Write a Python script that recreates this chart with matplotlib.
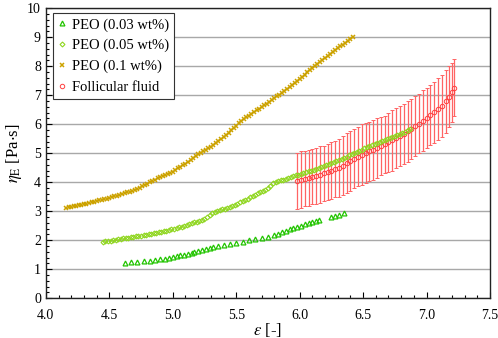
import matplotlib.pyplot as plt
from matplotlib.ticker import MultipleLocator

# PEO (0.03 wt%)
x_003 = [4.62, 4.67, 4.72, 4.77, 4.82, 4.86, 4.90, 4.94, 4.97, 5.00, 5.03, 5.06,
         5.09, 5.12, 5.15, 5.17, 5.20, 5.23, 5.26, 5.29, 5.32, 5.36, 5.40, 5.45,
         5.50, 5.55, 5.60, 5.65, 5.70, 5.75, 5.80, 5.83, 5.86, 5.89, 5.92, 5.95,
         5.98, 6.01, 6.04, 6.07, 6.10, 6.13, 6.15, 6.25, 6.28, 6.31, 6.35]
y_003 = [1.22, 1.24, 1.25, 1.27, 1.29, 1.31, 1.34, 1.36, 1.38, 1.41, 1.44, 1.47,
         1.50, 1.53, 1.57, 1.60, 1.63, 1.67, 1.70, 1.73, 1.75, 1.78, 1.82, 1.87,
         1.91, 1.95, 1.99, 2.03, 2.08, 2.12, 2.17, 2.21, 2.27, 2.32, 2.37, 2.41,
         2.45, 2.49, 2.54, 2.58, 2.62, 2.66, 2.70, 2.78, 2.82, 2.86, 2.92]

# PEO (0.05 wt%)
x_005 = [4.45, 4.47, 4.49, 4.51, 4.53, 4.55, 4.57, 4.59, 4.61, 4.63, 4.65, 4.67,
         4.69, 4.71, 4.73, 4.75, 4.77, 4.79, 4.81, 4.83, 4.85, 4.87, 4.89, 4.91,
         4.93, 4.95, 4.97, 4.99, 5.01, 5.03, 5.05, 5.07, 5.09, 5.11, 5.13, 5.15,
         5.17, 5.19, 5.21, 5.23, 5.25, 5.27, 5.29, 5.31, 5.33, 5.35, 5.37, 5.39,
         5.41, 5.43, 5.45, 5.47, 5.49, 5.51, 5.53, 5.55, 5.57, 5.59, 5.61, 5.63,
         5.65, 5.67, 5.69, 5.71, 5.73, 5.75, 5.77, 5.79, 5.81, 5.83, 5.85, 5.87,
         5.89, 5.91, 5.93, 5.95, 5.97, 5.99, 6.01, 6.03, 6.05, 6.07, 6.09, 6.11,
         6.13, 6.15, 6.17, 6.19, 6.21, 6.23, 6.25, 6.27, 6.29, 6.31, 6.33, 6.35,
         6.37, 6.39, 6.41, 6.43, 6.45, 6.47, 6.49, 6.51, 6.53, 6.55, 6.57, 6.59,
         6.61, 6.63, 6.65, 6.67, 6.69, 6.71, 6.73, 6.75, 6.77, 6.79, 6.81, 6.83,
         6.85, 6.87]
y_005 = [1.94, 1.955, 1.97, 1.985, 2.00, 2.015, 2.03, 2.045, 2.06, 2.075, 2.09, 2.10,
         2.11, 2.125, 2.14, 2.155, 2.17, 2.185, 2.20, 2.22, 2.24, 2.255, 2.27, 2.29,
         2.31, 2.33, 2.35, 2.37, 2.39, 2.415, 2.44, 2.465, 2.49, 2.52, 2.55, 2.58,
         2.61, 2.64, 2.67, 2.70, 2.74, 2.80, 2.88, 2.95, 2.98, 3.01, 3.035, 3.06,
         3.09, 3.12, 3.155, 3.19, 3.225, 3.26, 3.30, 3.34, 3.385, 3.43, 3.475, 3.52,
         3.565, 3.61, 3.645, 3.68, 3.72, 3.78, 3.88, 3.96, 4.00, 4.03, 4.06, 4.09,
         4.12, 4.15, 4.18, 4.205, 4.23, 4.255, 4.28, 4.31, 4.34, 4.37, 4.40, 4.43,
         4.46, 4.49, 4.52, 4.55, 4.58, 4.615, 4.65, 4.685, 4.72, 4.76, 4.80, 4.84,
         4.88, 4.92, 4.96, 5.00, 5.04, 5.08, 5.12, 5.16, 5.20, 5.235, 5.27, 5.31,
         5.35, 5.385, 5.42, 5.455, 5.49, 5.53, 5.57, 5.605, 5.64, 5.675, 5.71, 5.745,
         5.78, 5.82]

# PEO (0.1 wt%)
x_01 = [4.16, 4.18, 4.20, 4.22, 4.24, 4.26, 4.28, 4.30, 4.32, 4.34, 4.36, 4.38,
        4.40, 4.42, 4.44, 4.46, 4.48, 4.50, 4.52, 4.54, 4.56, 4.58, 4.60, 4.62,
        4.64, 4.66, 4.68, 4.70, 4.72, 4.74, 4.76, 4.78, 4.80, 4.82, 4.84, 4.86,
        4.88, 4.90, 4.92, 4.94, 4.96, 4.98, 5.00, 5.02, 5.04, 5.06, 5.08, 5.10,
        5.12, 5.14, 5.16, 5.18, 5.20, 5.22, 5.24, 5.26, 5.28, 5.30, 5.32, 5.34,
        5.36, 5.38, 5.40, 5.42, 5.44, 5.46, 5.48, 5.50, 5.52, 5.54, 5.56, 5.58,
        5.60, 5.62, 5.64, 5.66, 5.68, 5.70, 5.72, 5.74, 5.76, 5.78, 5.80, 5.82,
        5.84, 5.86, 5.88, 5.90, 5.92, 5.94, 5.96, 5.98, 6.00, 6.02, 6.04, 6.06,
        6.08, 6.10, 6.12, 6.14, 6.16, 6.18, 6.20, 6.22, 6.24, 6.26, 6.28, 6.30,
        6.32, 6.34, 6.36, 6.38, 6.40, 6.42]
y_01 = [3.12, 3.13, 3.15, 3.17, 3.19, 3.20, 3.22, 3.24, 3.26, 3.28, 3.30, 3.32,
        3.34, 3.37, 3.39, 3.41, 3.43, 3.46, 3.48, 3.51, 3.53, 3.56, 3.59, 3.62,
        3.65, 3.67, 3.70, 3.73, 3.77, 3.81, 3.85, 3.90, 3.95, 4.00, 4.05, 4.09,
        4.13, 4.17, 4.20, 4.24, 4.28, 4.32, 4.36, 4.41, 4.47, 4.52, 4.58, 4.64,
        4.71, 4.77, 4.84, 4.90, 4.96, 5.02, 5.07, 5.12, 5.17, 5.22, 5.28, 5.34,
        5.41, 5.48, 5.56, 5.63, 5.71, 5.79, 5.87, 5.95, 6.03, 6.10, 6.16, 6.23,
        6.29, 6.35, 6.41, 6.47, 6.53, 6.59, 6.65, 6.71, 6.77, 6.83, 6.90, 6.96,
        7.02, 7.08, 7.14, 7.20, 7.27, 7.34, 7.41, 7.48, 7.56, 7.63, 7.71, 7.78,
        7.86, 7.93, 8.01, 8.08, 8.15, 8.22, 8.28, 8.35, 8.42, 8.48, 8.55, 8.61,
        8.68, 8.74, 8.81, 8.87, 8.93, 9.00]

# Follicular fluid (mean and error)
x_ff = [5.98, 6.01, 6.04, 6.07, 6.10, 6.13, 6.16, 6.19, 6.22, 6.25, 6.28, 6.31,
        6.34, 6.37, 6.40, 6.43, 6.46, 6.49, 6.52, 6.55, 6.58, 6.61, 6.64, 6.67,
        6.70, 6.73, 6.76, 6.79, 6.82, 6.85, 6.88, 6.91, 6.94, 6.97, 7.00, 7.03,
        7.06, 7.09, 7.12, 7.15, 7.18, 7.20, 7.22]
y_ff = [4.05, 4.08, 4.12, 4.15, 4.19, 4.22, 4.26, 4.30, 4.35, 4.40, 4.45, 4.50,
        4.57, 4.65, 4.73, 4.81, 4.88, 4.94, 5.00, 5.06, 5.12, 5.18, 5.24, 5.30,
        5.37, 5.44, 5.51, 5.59, 5.67, 5.75, 5.84, 5.93, 6.02, 6.12, 6.21, 6.31,
        6.41, 6.52, 6.63, 6.78, 6.95, 7.10, 7.26]
err_ff = [0.97, 0.98, 0.96, 0.97, 0.95, 0.96, 0.97, 0.95, 0.98, 0.99, 0.97, 1.00,
          1.02, 1.03, 1.04, 1.03, 1.02, 1.05, 1.03, 1.02, 1.03, 1.04, 1.01, 0.99,
          1.02, 1.04, 1.03, 1.02, 1.03, 1.05, 1.03, 1.04, 1.03, 1.05, 1.04, 1.03,
          1.05, 1.06, 1.07, 1.08, 1.05, 1.02, 0.98]

plt.rcParams['font.family'] = ['Liberation Serif', 'DejaVu Serif']
plt.rcParams['mathtext.fontset'] = 'stix'

fig = plt.figure(figsize=(4.98, 3.38), dpi=100)
ax = fig.add_axes([0.092, 0.118, 0.892, 0.858])

ax.errorbar(x_ff, y_ff, yerr=err_ff, fmt='none', ecolor='#ff6464',
            elinewidth=0.9, capsize=1.5, capthick=0.7, zorder=2)
h_ff, = ax.plot(x_ff, y_ff, 'o', ms=3.2, mfc='none', mec='#ff4040',
                mew=0.7, label='Follicular fluid', zorder=3)
h_003, = ax.plot(x_003, y_003, '^', ms=3.5, mfc='none', mec='#22c400',
                 mew=0.9, label='PEO (0.03 wt%)', zorder=4)
h_005, = ax.plot(x_005, y_005, 'D', ms=2.5, mfc='none', mec='#8fd61f',
                 mew=0.8, label='PEO (0.05 wt%)', zorder=4)
h_01, = ax.plot(x_01, y_01, 'x', ms=3.5, mec='#cca200',
                mew=1.1, label='PEO (0.1 wt%)', zorder=4)

ax.set_xlim(4.0, 7.5)
ax.set_ylim(0, 10)
ax.xaxis.set_major_locator(MultipleLocator(0.5))
ax.xaxis.set_minor_locator(MultipleLocator(0.1))
ax.yaxis.set_major_locator(MultipleLocator(1))
ax.yaxis.set_minor_locator(MultipleLocator(0.2))
ax.xaxis.set_major_formatter(lambda v, p: f'{v:.1f}')
ax.tick_params(which='both', direction='in', labelsize=10, width=0.8)
ax.tick_params(which='major', length=4)
ax.tick_params(which='minor', length=2)
ax.tick_params(axis='x', which='major', pad=8)
ax.grid(axis='y', which='major', color='#a8a8a8', lw=1.0)
ax.set_axisbelow(True)
for s in ax.spines.values():
    s.set_linewidth(1.0)
    s.set_color('#222222')

ax.set_xlabel(r'$\varepsilon$ [-]', fontsize=12, labelpad=-1)
ax.set_ylabel(r'$\eta_{\rm E}$ [Pa$\cdot$s]', fontsize=12, labelpad=2)

leg = ax.legend(handles=[h_003, h_005, h_01, h_ff], loc='upper left',
                bbox_to_anchor=(0.016, 0.983), borderaxespad=0,
                fontsize=10.5, fancybox=False, edgecolor='#333333',
                framealpha=1, handlelength=0.6, handletextpad=0.35,
                borderpad=0.35, labelspacing=0.5)
leg.get_frame().set_linewidth(0.8)

fig.savefig('out.png', dpi=100)
